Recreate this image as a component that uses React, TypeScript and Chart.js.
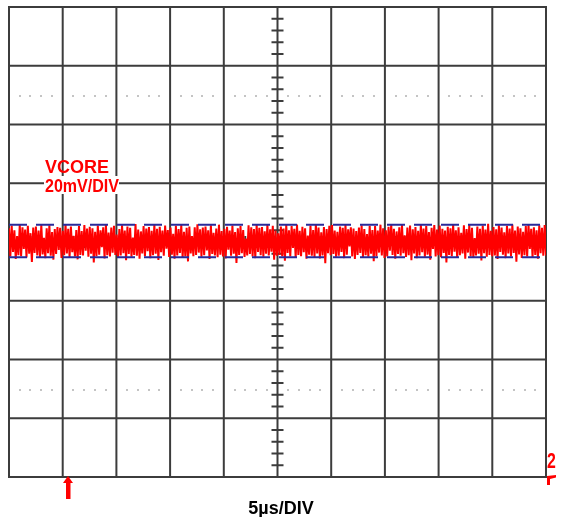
import { useEffect, useRef } from "react";
import { Chart, registerables } from "chart.js";

Chart.register(...registerables);

// Oscilloscope settings
const timePerDiv = 5; // µs per division
const voltPerDiv = 20; // mV per division
const xDivisions = 10;
const yDivisions = 8;
const channelLabel = "VCORE";
const scaleLabel = "20mV/DIV";
const timebaseLabel = "5µs/DIV";
const channelMarker = "2";
const triggerTime = 5.5; // µs
const upperCursor = 5.9; // mV
const lowerCursor = -5.2; // mV
const dottedLevels = [50, -50]; // mV

// VCORE ripple samples across the 50 µs record (mV, AC coupled)
const rippleMv = [
  4.7, -4.9, 5.6, -3.4, 4.0, -5.8, 2.0, -4.5, 5.9, -4.8, 5.0, -2.4, 4.2, -5.3, 5.5, -4.0, 3.0, -6.8, 4.9, -3.7,
  5.3, -4.6, 3.9, -5.1, 5.9, -4.2, 1.4, -5.5, 4.7, -3.8, 5.7, -4.7, 3.4, -6.0, 4.4, -4.1, 5.1, -2.7, 4.8, -5.4,
  3.8, -4.5, 6.0, -3.9, 4.5, -5.2, 5.3, -3.5, 2.1, -4.9, 4.1, -5.9, 5.4, -4.4, 3.7, -4.6, 5.8, -3.0, 4.6, -5.0,
  5.2, -4.0, 4.7, -7.0, 3.5, -4.8, 5.6, -4.3, 4.0, -1.8, 5.0, -5.6, 5.9, -4.5, 3.2, -4.9, 4.9, -3.6, 5.5, -4.4,
  2.5, -5.3, 4.4, -4.6, 5.7, -3.8, 3.9, -6.2, 5.3, -4.1, 4.8, -5.0, 1.5, -4.4, 6.1, -4.7, 4.2, -5.7, 3.6, -3.9,
  5.4, -4.8, 4.6, -3.1, 5.1, -5.5, 3.8, -4.5, 5.9, -4.0, 4.5, -6.1, 5.2, -3.5, 3.9, -4.7, 5.6, -2.3, 4.1, -5.1,
  4.9, -4.3, 2.8, -5.7, 5.5, -4.6, 4.4, -3.7, 5.8, -5.4, 3.5, -4.9, 4.8, -6.6, 5.3, -3.9, 2.0, -4.8, 5.0, -4.4,
  6.0, -3.6, 4.3, -5.0, 4.9, -4.5, 5.3, -2.9, 4.0, -5.8, 5.7, -4.1, 3.1, -4.6, 4.6, -5.2, 5.9, -4.3, 3.7, -4.9,
  4.5, -5.6, 5.2, -2.6, 3.9, -4.7, 5.6, -4.0, 3.4, -7.1, 4.7, -4.4, 5.4, -3.8, 4.1, -5.1, 1.2, -4.6, 5.7, -4.1,
  5.0, -4.9, 4.4, -5.5, 5.9, -3.4, 4.8, -4.5, 5.1, -5.0, 3.6, -4.0, 6.0, -4.6, 4.3, -3.3, 5.5, -6.0, 3.9, -4.7,
  3.0, -4.4, 5.3, -4.8, 4.6, -6.4, 5.8, -3.7, 4.0, -4.9, 5.4, -2.0, 4.5, -5.4, 5.9, -4.4, 3.8, -4.8, 5.2, -3.5,
  4.7, -5.7, 2.2, -4.3, 5.6, -4.7, 4.1, -5.1, 6.0, -3.9, 4.9, -5.6, 3.3, -4.6, 5.1, -7.2, 4.4, -3.8, 5.5, -4.5,
  5.8, -4.1, 3.9, -5.0, 3.5, -4.7, 5.3, -3.4, 4.8, -5.5, 5.9, -4.3, 4.3, -1.5, 5.0, -4.9, 4.6, -5.8, 3.7, -4.4,
  4.9, -3.7, 5.7, -5.2, 4.4, -4.5, 2.7, -5.0, 5.5, -4.0, 4.1, -6.5, 5.4, -4.8, 3.9, -3.6, 5.9, -4.6, 4.7, -5.4,
  4.0, -4.9, 5.2, -3.0, 6.1, -4.4, 4.5, -5.7, 3.6, -4.1, 5.0, -4.7, 5.8, -3.8, 2.3, -5.1, 4.9, -4.5, 5.6, -6.2,
  4.3, -3.9, 5.1, -5.5, 3.8, -4.6, 5.9, -3.5, 4.6, -5.0, 5.4, -4.3, 3.4, -6.0, 4.8, -2.4, 5.8, -4.9, 4.2, -4.5,
  5.6, -5.2, 4.5, -3.7, 3.9, -7.0, 5.2, -4.4, 4.7, -4.8, 5.9, -3.3, 4.0, -5.4, 5.0, -4.5, 3.1, -3.9, 5.7, -5.7,
  4.4, -3.6, 5.8, -4.9, 4.8, -5.3, 1.3, -4.6, 5.3, -4.0, 4.5, -6.3, 5.6, -3.8, 4.2, -5.0, 6.2, -4.4, 3.8, -4.8,
  5.1, -4.6, 4.3, -5.8, 5.7, -3.4, 4.9, -4.3, 3.3, -5.5, 5.5, -3.9, 4.6, -4.9, 5.9, -3.7, 3.9, -6.7, 5.3, -4.2,
  4.7, -5.4, 3.5, -4.5, 5.4, -4.9, 5.9, -2.4, 4.5, -5.2, 5.0, -4.4, 4.0, -5.7, 5.7, -3.8, 4.8, -4.7, 5.8, -4.6,
];

const xMax = timePerDiv * xDivisions;
const yHalf = (voltPerDiv * yDivisions) / 2;

const scopeGraticule = {
  id: "scopeGraticule",
  beforeDatasetsDraw(chart: any) {
    const { ctx, chartArea } = chart;
    const xs = chart.scales.x;
    const ys = chart.scales.y;
    ctx.save();

    // dotted reference rows
    ctx.fillStyle = "#c4c4c4";
    for (const lv of dottedLevels) {
      const py = ys.getPixelForValue(lv);
      for (let d = 0; d < xDivisions; d++) {
        for (let s = 1; s < 5; s++) {
          const px = xs.getPixelForValue(d * timePerDiv + (s * timePerDiv) / 5);
          ctx.fillRect(Math.round(px) - 1, Math.round(py), 2, 2);
        }
      }
    }

    ctx.strokeStyle = "#3c3c3c";
    ctx.lineWidth = 2;
    ctx.beginPath();
    for (let i = 0; i <= xDivisions; i++) {
      const px = xs.getPixelForValue(i * timePerDiv);
      ctx.moveTo(px, chartArea.top);
      ctx.lineTo(px, chartArea.bottom);
    }
    for (let j = 0; j <= yDivisions; j++) {
      const py = ys.getPixelForValue(-yHalf + j * voltPerDiv);
      ctx.moveTo(chartArea.left - 1, py);
      ctx.lineTo(chartArea.right + 1, py);
    }
    ctx.stroke();

    // minor ticks on the centre axes
    const cx = xs.getPixelForValue(xMax / 2);
    const cy = ys.getPixelForValue(0);
    ctx.lineWidth = 2;
    ctx.beginPath();
    for (let k = 1; k < yDivisions * 5; k++) {
      if (k % 5 === 0) continue;
      const py = ys.getPixelForValue(-yHalf + (k * voltPerDiv) / 5);
      ctx.moveTo(cx - 6, py);
      ctx.lineTo(cx + 6, py);
    }
    for (let k = 1; k < xDivisions * 5; k++) {
      if (k % 5 === 0) continue;
      const px = xs.getPixelForValue((k * timePerDiv) / 5);
      ctx.moveTo(px, cy - 6);
      ctx.lineTo(px, cy + 6);
    }
    ctx.stroke();
    ctx.restore();
  },
  afterDraw(chart: any) {
    const { ctx, chartArea } = chart;
    const xs = chart.scales.x;
    ctx.save();
    const family = '"Liberation Sans", Arial, sans-serif';

    // channel label on a white patch over the graticule
    ctx.fillStyle = "#ffffff";
    ctx.fillRect(44, 176, 75, 18);
    ctx.fillStyle = "#ff0000";
    ctx.textBaseline = "alphabetic";
    ctx.textAlign = "left";
    ctx.font = `bold 18px ${family}`;
    ctx.fillText(channelLabel, 45, 173, 65);
    ctx.fillText(scaleLabel, 45, 192, 74);

    ctx.fillStyle = "#000000";
    ctx.textAlign = "center";
    ctx.font = `bold 18px ${family}`;
    ctx.fillText(timebaseLabel, 281, 514);

    // trigger position arrow
    const tx = Math.round(xs.getPixelForValue(triggerTime));
    const base = chartArea.bottom;
    ctx.fillStyle = "#ff0000";
    ctx.beginPath();
    ctx.moveTo(tx, base - 1);
    ctx.lineTo(tx + 5, base + 6);
    ctx.lineTo(tx + 2.5, base + 6);
    ctx.lineTo(tx + 2.5, base + 22);
    ctx.lineTo(tx - 2, base + 22);
    ctx.lineTo(tx - 2, base + 6);
    ctx.lineTo(tx - 5, base + 6);
    ctx.closePath();
    ctx.fill();

    // channel reference marker at the right edge
    const rx = chartArea.right;
    ctx.save();
    ctx.translate(rx + 1, base - 9);
    ctx.scale(0.72, 1);
    ctx.textAlign = "left";
    ctx.font = `bold 22px ${family}`;
    ctx.fillText(channelMarker, 0, 0);
    ctx.restore();
    ctx.beginPath();
    ctx.moveTo(rx + 1, base - 1);
    ctx.lineTo(rx + 10, base - 2);
    ctx.lineTo(rx + 10, base + 0.5);
    ctx.lineTo(rx + 4, base + 2);
    ctx.lineTo(rx + 4, base + 8);
    ctx.lineTo(rx + 1, base + 8);
    ctx.closePath();
    ctx.fill();

    ctx.restore();
  },
};

export default function App() {
  const canvasRef = useRef<HTMLCanvasElement | null>(null);

  useEffect(() => {
    const canvas = canvasRef.current;
    if (!canvas) return;
    const n = rippleMv.length;
    const ripple = rippleMv.map((v, i) => ({ x: (i * xMax) / (n - 1), y: v }));
    const cursorStyle = {
      borderColor: "#2a2a9a",
      borderWidth: 2,
      borderDash: [18, 9],
      pointRadius: 0,
      fill: false,
    };

    const chart = new Chart(canvas, {
      type: "line",
      data: {
        datasets: [
          { label: "upper", data: [{ x: 0, y: upperCursor }, { x: xMax, y: upperCursor }], ...cursorStyle },
          { label: "lower", data: [{ x: 0, y: lowerCursor }, { x: xMax, y: lowerCursor }], ...cursorStyle },
          {
            label: channelLabel,
            data: ripple,
            borderColor: "#ff0000",
            borderWidth: 2,
            pointRadius: 0,
            tension: 0,
            fill: false,
          },
        ],
      },
      options: {
        responsive: false,
        animation: false,
        layout: { padding: { left: 9, right: 15, top: 7, bottom: 40 } },
        plugins: { legend: { display: false }, tooltip: { enabled: false } },
        scales: {
          x: { type: "linear", min: 0, max: xMax, display: false },
          y: { type: "linear", min: -yHalf, max: yHalf, display: false },
        },
      },
      plugins: [scopeGraticule],
    });
    return () => chart.destroy();
  }, []);

  return (
    <div style={{ position: "fixed", left: 0, top: 0, width: 561, height: 517, background: "#fff" }}>
      <canvas ref={canvasRef} width={561} height={517} style={{ display: "block" }} />
    </div>
  );
}
